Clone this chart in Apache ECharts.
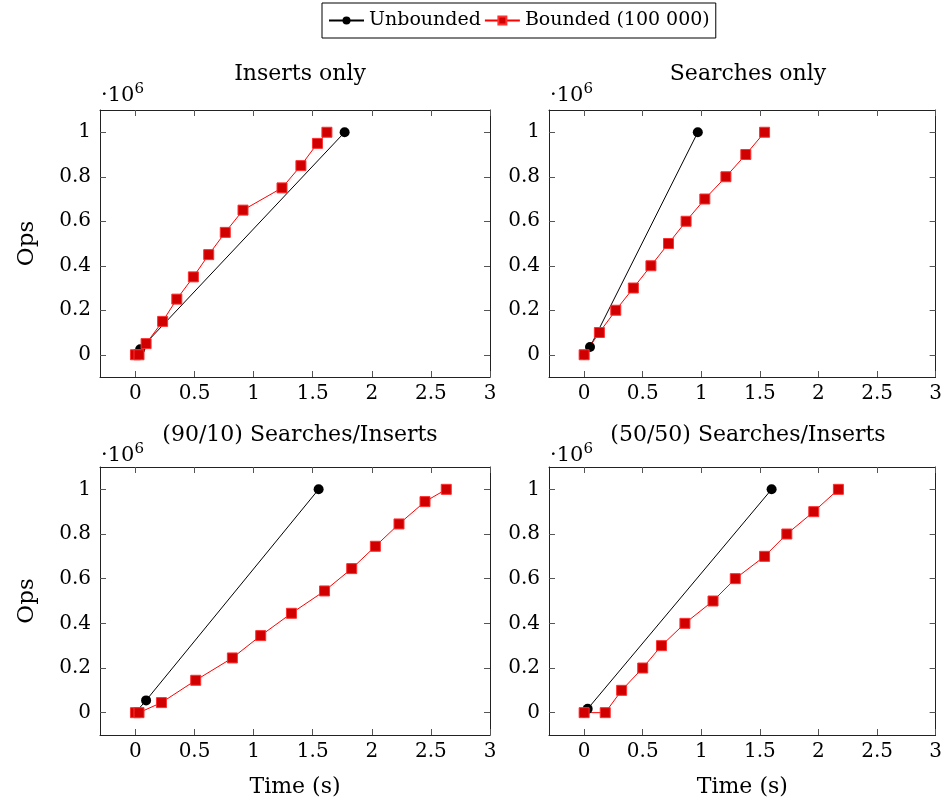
<!DOCTYPE html>
<html>
<head>
<meta charset="utf-8">
<title>Ops vs time</title>
<script src="https://cdn.jsdelivr.net/npm/echarts@6/dist/echarts.min.js"></script>
<style>
  html, body { margin: 0; padding: 0; background: #fff; }
  #main { width: 945px; height: 800px; }
</style>
</head>
<body>
<div id="main"></div>
<script>
// panel titles
var panelTitles = ['Inserts only', 'Searches only', '(90/10) Searches/Inserts', '(50/50) Searches/Inserts'];
var seriesNames = ['Unbounded', 'Bounded (100 000)'];

// Inserts only
var insUnbTime = [0, 0.04, 1.77];
var insUnbOps = [0, 25000, 1000000];
var insBndTime = [0, 0.03, 0.09, 0.23, 0.35, 0.49, 0.62, 0.76, 0.91, 1.24, 1.40, 1.54, 1.62];
var insBndOps = [0, 0, 50000, 150000, 250000, 350000, 450000, 550000, 650000, 750000, 850000, 950000, 1000000];

// Searches only
var srcUnbTime = [0, 0.05, 0.97];
var srcUnbOps = [0, 35000, 1000000];
var srcBndTime = [0, 0.13, 0.27, 0.42, 0.57, 0.72, 0.87, 1.03, 1.21, 1.38, 1.54];
var srcBndOps = [0, 100000, 200000, 300000, 400000, 500000, 600000, 700000, 800000, 900000, 1000000];

// (90/10) Searches/Inserts
var mix90UnbTime = [0, 0.09, 1.55];
var mix90UnbOps = [0, 55000, 1000000];
var mix90BndTime = [0, 0.03, 0.22, 0.51, 0.82, 1.06, 1.32, 1.60, 1.83, 2.03, 2.23, 2.45, 2.63];
var mix90BndOps = [0, 0, 45000, 145000, 245000, 345000, 445000, 545000, 645000, 745000, 845000, 945000, 1000000];

// (50/50) Searches/Inserts
var mix50UnbTime = [0, 0.03, 1.60];
var mix50UnbOps = [0, 17000, 1000000];
var mix50BndTime = [0, 0.18, 0.32, 0.50, 0.66, 0.86, 1.10, 1.29, 1.54, 1.73, 1.96, 2.17];
var mix50BndOps = [0, 0, 100000, 200000, 300000, 400000, 500000, 600000, 700000, 800000, 900000, 1000000];

// tick values
var timeTicks = [0, 0.5, 1, 1.5, 2, 2.5, 3];
var opsTicks = [0, 200000, 400000, 600000, 800000, 1000000];

function zip(xs, ys) {
  return xs.map(function (x, i) { return [x, ys[i]]; });
}

var panels = [
  [zip(insUnbTime, insUnbOps), zip(insBndTime, insBndOps)],
  [zip(srcUnbTime, srcUnbOps), zip(srcBndTime, srcBndOps)],
  [zip(mix90UnbTime, mix90UnbOps), zip(mix90BndTime, mix90BndOps)],
  [zip(mix50UnbTime, mix50UnbOps), zip(mix50BndTime, mix50BndOps)]
];

var FONT = 'DejaVu Serif';
var grids = [
  { left: 100, top: 110, width: 390, height: 267 },
  { left: 549, top: 110, width: 388, height: 267 },
  { left: 100, top: 467, width: 390, height: 268 },
  { left: 549, top: 467, width: 388, height: 268 }
];

var chart = echarts.init(document.getElementById('main'));

var xAxes = [], yAxes = [], series = [], titles = [];
var lineCol = '#222', tickCol = '#555';

grids.forEach(function (g, i) {
  var bottomRow = i >= 2, leftCol = i % 2 === 0;
  // x axis, bottom with labels
  xAxes.push({
    type: 'value', gridIndex: i, position: 'bottom', min: -0.3, max: 3,
    name: bottomRow ? 'Time (s)' : '', nameLocation: 'middle', nameGap: 41,
    nameTextStyle: { fontFamily: FONT, fontSize: 22, color: '#000' },
    axisLine: { show: true, onZero: false, lineStyle: { color: lineCol, width: 1 } },
    axisTick: { show: true, inside: true, length: 6, customValues: timeTicks, lineStyle: { color: tickCol } },
    axisLabel: { customValues: timeTicks, margin: 7, fontFamily: FONT, fontSize: 20, color: '#000' },
    splitLine: { show: false }
  });
  // top mirror
  xAxes.push({
    type: 'value', gridIndex: i, position: 'top', min: -0.3, max: 3,
    axisLine: { show: true, onZero: false, lineStyle: { color: lineCol, width: 1 } },
    axisTick: { show: true, inside: true, length: 6, customValues: timeTicks, lineStyle: { color: tickCol } },
    axisLabel: { show: false },
    splitLine: { show: false }
  });
  yAxes.push({
    type: 'value', gridIndex: i, position: 'left', min: -100000, max: 1100000,
    name: leftCol ? 'Ops' : '', nameLocation: 'middle', nameGap: 61, nameRotate: 90,
    nameTextStyle: { fontFamily: FONT, fontSize: 23, color: '#000' },
    axisLine: { show: true, onZero: false, lineStyle: { color: lineCol, width: 1 } },
    axisTick: { show: true, inside: true, length: 6, customValues: opsTicks, lineStyle: { color: tickCol } },
    axisLabel: {
      customValues: opsTicks, margin: 9, fontFamily: FONT, fontSize: 20, color: '#000',
      formatter: function (v) { return String(Math.round(v / 100000) / 10); }
    },
    splitLine: { show: false }
  });
  // right mirror
  yAxes.push({
    type: 'value', gridIndex: i, position: 'right', min: -100000, max: 1100000,
    axisLine: { show: true, onZero: false, lineStyle: { color: lineCol, width: 1 } },
    axisTick: { show: true, inside: true, length: 6, customValues: opsTicks, lineStyle: { color: tickCol } },
    axisLabel: { show: false },
    splitLine: { show: false }
  });

  series.push({
    name: seriesNames[0], type: 'line', xAxisIndex: 2 * i, yAxisIndex: 2 * i,
    data: panels[i][0], symbol: 'circle', symbolSize: 10,
    itemStyle: { color: '#000' }, lineStyle: { color: '#000', width: 1 }
  });
  series.push({
    name: seriesNames[1], type: 'line', xAxisIndex: 2 * i, yAxisIndex: 2 * i,
    data: panels[i][1], symbol: 'rect', symbolSize: 10,
    itemStyle: { color: '#d00000', borderColor: '#ff3030', borderWidth: 1 },
    lineStyle: { color: '#ff0000', width: 1 }
  });

  titles.push({
    text: panelTitles[i], left: g.left + g.width / 2, top: g.top - (bottomRow ? 48 : 52), textAlign: 'center',
    textStyle: { fontFamily: FONT, fontSize: 22, fontWeight: 'normal', color: '#000' }
  });
  titles.push({
    text: '{a|·10}{b|6}', left: g.left - 4, top: g.top - (bottomRow ? 30 : 33),
    textStyle: {
      fontWeight: 'normal',
      rich: {
        a: { fontFamily: FONT, fontSize: 21, fontWeight: 'normal', color: '#000', verticalAlign: 'bottom' },
        b: { fontFamily: FONT, fontSize: 15, fontWeight: 'normal', color: '#000', verticalAlign: 'top', padding: [0, 0, 9, 0] }
      }
    }
  });
});

var option = {
  backgroundColor: '#fff',
  animation: false,
  title: titles,
  legend: {
    data: seriesNames, left: 322, top: 3,
    borderColor: '#000', borderWidth: 1, padding: [8, 6, 8, 6],
    itemGap: 3, itemWidth: 35, itemHeight: 10,
    textStyle: { fontFamily: FONT, fontSize: 19, color: '#000' }
  },
  grid: grids,
  xAxis: xAxes,
  yAxis: yAxes,
  series: series
};

chart.setOption(option);
</script>
</body>
</html>
